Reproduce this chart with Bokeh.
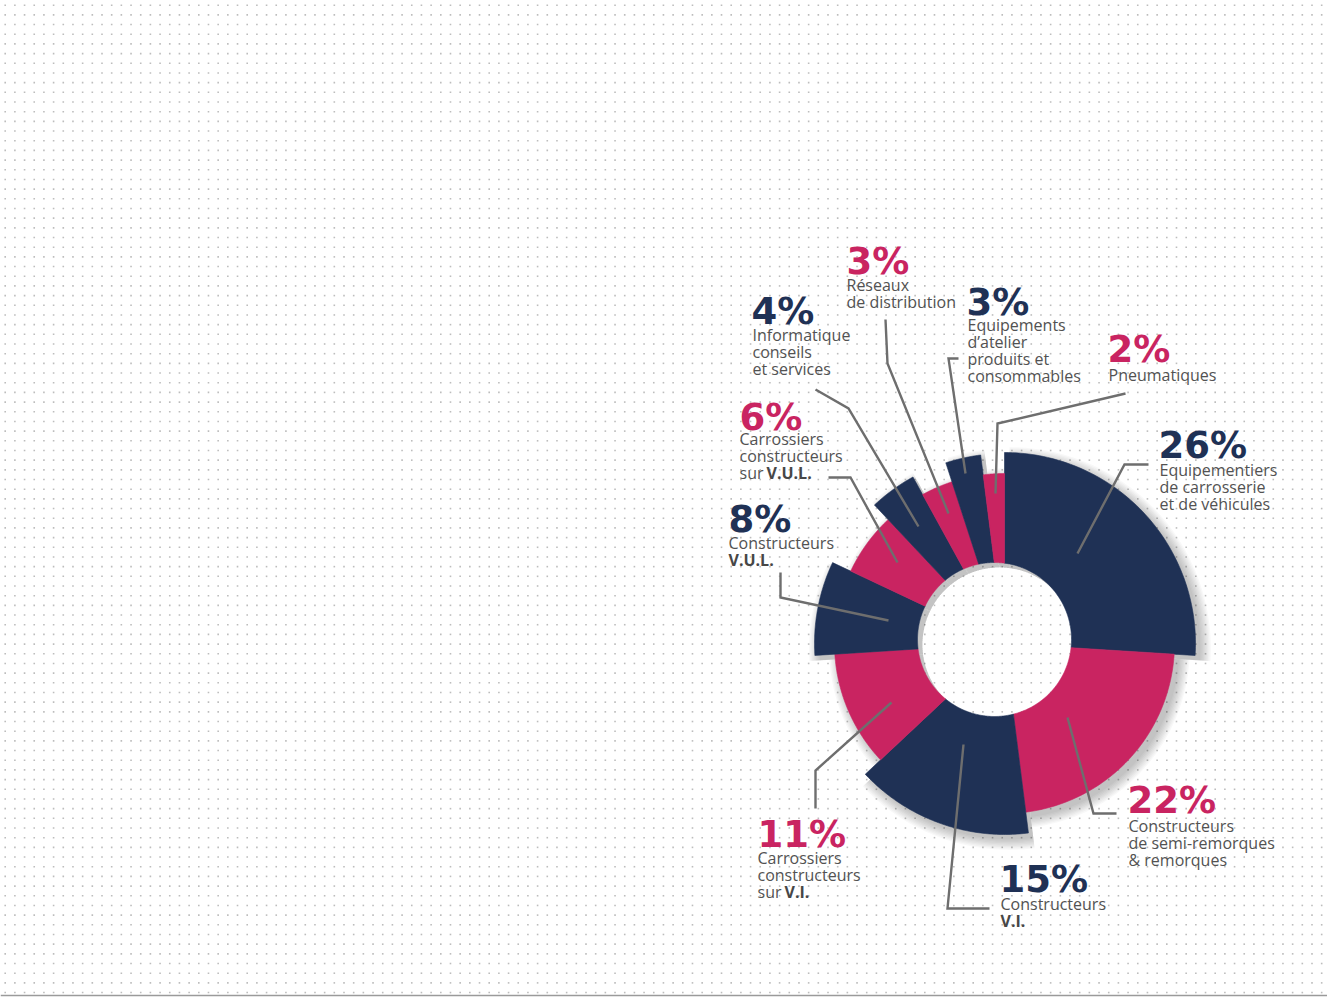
import numpy as np
from bokeh.plotting import figure
from bokeh.models import Range1d, Span
from bokeh.core.properties import value
from bokeh.embed import file_html
from bokeh.resources import INLINE

# ---------------- data ----------------
shares = [26, 22, 15, 11, 8, 6, 4, 3, 3, 2]
pct_text = ["26%", "22%", "15%", "11%", "8%", "6%", "4%", "3%", "3%", "2%"]
categories = [
    ["Equipementiers", "de carrosserie", "et de véhicules"],
    ["Constructeurs", "de semi-remorques", "& remorques"],
    ["Constructeurs", "**V.I.**"],
    ["Carrossiers", "constructeurs", "sur **V.I.**"],
    ["Constructeurs", "**V.U.L.**"],
    ["Carrossiers", "constructeurs", "sur **V.U.L.**"],
    ["Informatique", "conseils", "et services"],
    ["Réseaux", "de distribution"],
    ["Equipements", "d’atelier", "produits et", "consommables"],
    ["Pneumatiques"],
]

# ---------------- style / layout ----------------
NAVY = "#1f3155"
PINK = "#c92461"
TEXT = "#525252"
LEAD = "#6e6e6e"
colors = [NAVY, PINK] * 5
outer_r = [191, 170, 191, 170, 190, 170, 190, 170, 190, 170]
W, H = 1327, 997
CX, CY = 1004, 643            # segment centre (image px)
HX, HY, HR = 994, 639, 77     # hole centre / radius (image px)
PCT_SHIFT = -11
LAB_SHIFT = -8

def X(x):
    return x - CX

def Y(y):
    return CY - y

# percentage baseline (image px), label first baseline
pct_pos = [(1158, 456), (1127, 811), (999, 890), (757, 845), (728, 530),
           (739, 428), (751, 322), (846, 272), (966, 313), (1107, 360)]
lab_x = [1159, 1128, 1000, 757, 728, 739, 752, 846, 967, 1108]
lab_y0 = [477, 833, 911, 865, 550, 446, 342, 292, 332, 382]
LINE_STEP = 17
BOLD_OFFSET = 27

leaders = [
    [(1077, 553), (1124, 464), (1148, 464)],
    [(1067, 717), (1093, 813), (1116, 813)],
    [(963, 744), (947, 908), (989, 908)],
    [(891, 702), (815, 770), (815, 808)],
    [(888, 620), (780, 597), (780, 572)],
    [(897, 562), (850, 477), (828, 477)],
    [(918, 526), (848, 408), (815, 389)],
    [(948, 513), (887, 363), (885, 319)],
    [(965, 473), (948, 358), (958, 358)],
    [(995, 493), (997, 423), (1125, 393)],
]

# ---------------- figure ----------------
p = figure(width=W, height=H, x_range=Range1d(-CX, W - CX), y_range=Range1d(CY - H, CY),
           output_backend="svg", toolbar_location=None, min_border=0)
p.axis.visible = False
p.grid.visible = False
p.outline_line_color = None
p.background_fill_color = "white"
p.border_fill_color = "white"

# dotted background
gx = np.arange(4.7, W, 9.68)
gy = np.arange(4.7, H, 9.68)
mx, my = np.meshgrid(gx, gy)
p.scatter(x=(mx.ravel() - CX), y=(CY - my.ravel()), marker="square", size=1.6,
          fill_color="#bdbdbd", line_color=None)

# segment geometry
d = np.array([CX - HX, -(CY - HY)], dtype=float)  # segment centre minus hole centre (data coords)

def segment(a0, a1, R, off=(0.0, 0.0)):
    th = np.radians(np.linspace(a0, a1, 80))
    ux, uy = np.sin(th), np.cos(th)
    ox, oy = R * ux, R * uy
    du = d[0] * ux + d[1] * uy
    t = -du + np.sqrt(du ** 2 - (d @ d) + HR ** 2)
    ix, iy = t * ux, t * uy
    xs = np.concatenate([ox, ix[::-1]]) + off[0]
    ys = np.concatenate([oy, iy[::-1]]) + off[1]
    return xs.tolist(), ys.tolist()

cum = np.concatenate([[0], np.cumsum(shares)]) / sum(shares) * 360.0

# soft shadow
for k in range(9):
    sx, sy = [], []
    for i in range(len(shares)):
        xs, ys = segment(cum[i], cum[i + 1], outer_r[i] + k * 1.3, off=(5, -5))
        sx.append(xs)
        sy.append(ys)
    p.patches(xs=sx, ys=sy, fill_color="black", fill_alpha=0.028, line_color=None)

# segments
sx, sy = [], []
for i in range(len(shares)):
    xs, ys = segment(cum[i], cum[i + 1], outer_r[i])
    sx.append(xs)
    sy.append(ys)
p.patches(xs=sx, ys=sy, fill_color=colors, line_color=colors, line_width=0.6)

# leader lines
p.multi_line(xs=[[X(a) for a, b in L] for L in leaders],
             ys=[[Y(b) for a, b in L] for L in leaders],
             line_color=LEAD, line_width=2.4, line_join="miter")

# percentages
p.text(x=[X(a) for a, b in pct_pos], y=[Y(b + PCT_SHIFT) for a, b in pct_pos], text=pct_text,
       text_color=colors, text_font=value("DejaVu Sans"), text_font_style="bold",
       text_font_size="37px", text_baseline="alphabetic", text_align="left")

# labels
nx, ny, nt, bx, by, bt = [], [], [], [], [], []
for i, lines in enumerate(categories):
    for j, line in enumerate(lines):
        yy = Y(lab_y0[i] + j * LINE_STEP + LAB_SHIFT)
        if "**" in line:
            pre, bold = line.split("**")[0:2]
            if pre.strip():
                nx.append(X(lab_x[i])); ny.append(yy); nt.append(pre.strip())
                bx.append(X(lab_x[i] + BOLD_OFFSET)); by.append(yy); bt.append(bold)
            else:
                bx.append(X(lab_x[i])); by.append(yy); bt.append(bold)
        else:
            nx.append(X(lab_x[i])); ny.append(yy); nt.append(line)

p.text(x=nx, y=ny, text=nt, text_color=TEXT, text_font=value("Open Sans"),
       text_font_size="16px", text_baseline="alphabetic", text_align="left")
p.text(x=bx, y=by, text=bt, text_color="#474747", text_font=value("Open Sans"),
       text_font_style="bold", text_font_size="16px", text_baseline="alphabetic",
       text_align="left")

# frame line at bottom
p.add_layout(Span(location=Y(995), dimension="width", line_color="#9a9a9a", line_width=1.5))

open("out.html", "w").write(file_html(p, INLINE))
